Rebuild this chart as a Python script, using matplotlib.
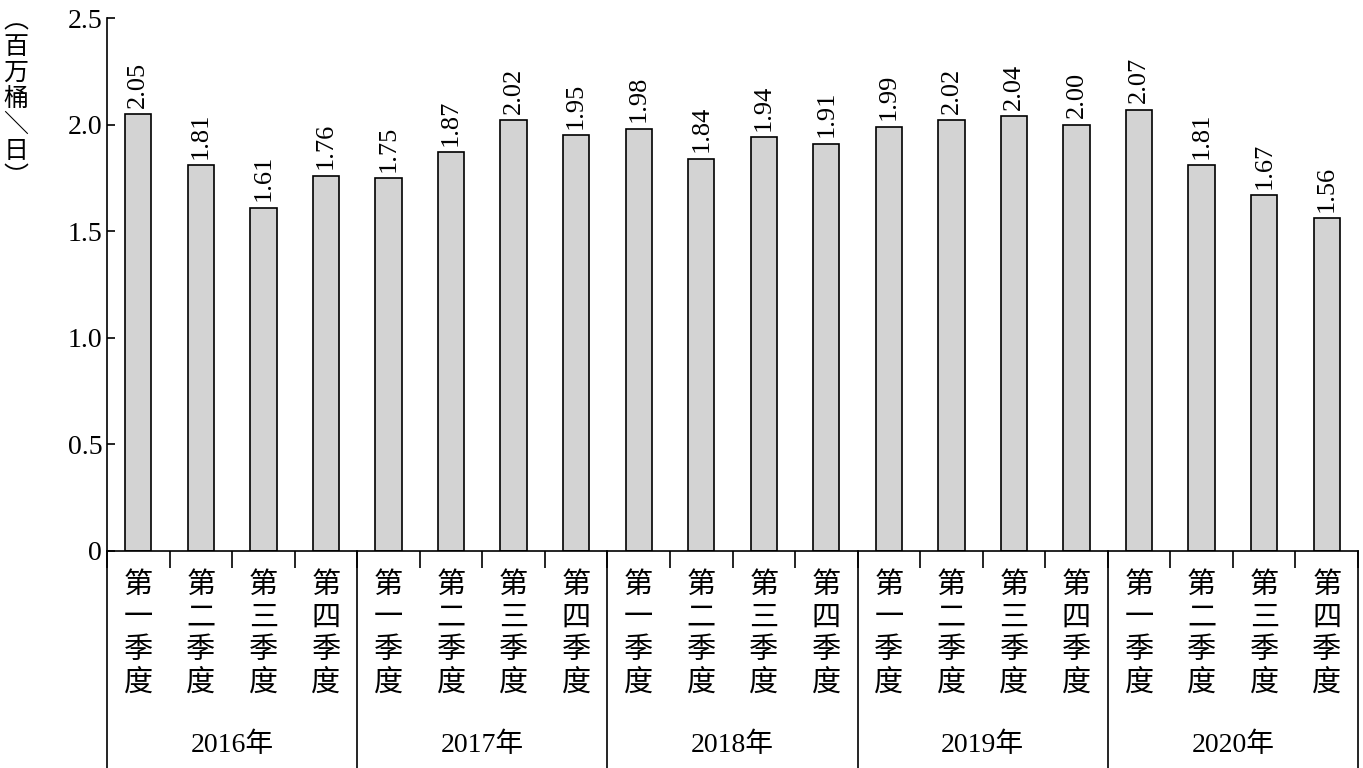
import numpy as np
import matplotlib.pyplot as plt

plt.rcParams['font.family'] = ['Liberation Serif', 'Noto Sans CJK SC', 'DejaVu Sans']

years = ['2016年', '2017年', '2018年', '2019年', '2020年']
quarters = ['第一季度', '第二季度', '第三季度', '第四季度']
values = [2.05, 1.81, 1.61, 1.76,
          1.75, 1.87, 2.02, 1.95,
          1.98, 1.84, 1.94, 1.91,
          1.99, 2.02, 2.04, 2.00,
          2.07, 1.81, 1.67, 1.56]

W, H = 1363, 768
fig = plt.figure(figsize=(W / 100, H / 100), dpi=100)
ax = fig.add_axes([107 / W, (H - 551) / H, (1358 - 107) / W, (551 - 18) / H])

x = np.arange(len(values))
ax.bar(x, values, width=0.42, color='#d3d3d3', edgecolor='black', linewidth=1.2)
for xi, v in zip(x, values):
    ax.text(xi, v + 0.03, f'{v:.2f}', rotation=90, ha='center', va='bottom', fontsize=19)

ax.set_xlim(-0.5, len(values) - 0.5)
ax.set_ylim(0, 2.5)
ax.set_yticks([0, 0.5, 1.0, 1.5, 2.0, 2.5])
ax.set_yticklabels(['0', '0.5', '1.0', '1.5', '2.0', '2.5'], fontsize=20)
ax.tick_params(axis='y', direction='in', length=6, width=1.2)
ax.set_xticks(np.arange(-0.5, len(values), 1.0))
ax.set_xticklabels([])
ax.tick_params(axis='x', direction='out', length=12, width=1.2)
for s in ['top', 'right']:
    ax.spines[s].set_visible(False)
for s in ['left', 'bottom']:
    ax.spines[s].set_linewidth(1.2)

bottom = -(H - 551) / (551 - 18)
trans = ax.get_xaxis_transform()
for b in np.arange(-0.5, len(values), 4):
    ax.plot([b, b], [0, bottom], color='black', lw=1.2, transform=trans, clip_on=False)

for i, xi in enumerate(x):
    q = quarters[i % 4]
    ax.text(xi, -0.035, '\n'.join(q), transform=trans, ha='center', va='top',
            fontsize=21, linespacing=1.12, family=['Noto Sans CJK SC'])
for g, y in enumerate(years):
    ax.text(4 * g + 1.5, -0.365, y, transform=trans, ha='center', va='center', fontsize=20)

fig.text(16 / W, 1 - 8 / H, '︵\n百\n万\n桶\n＼\n日\n︶', ha='center', va='top',
         fontsize=18, linespacing=1.0, family=['Noto Sans CJK SC'])

fig.savefig('out.png', dpi=100)
